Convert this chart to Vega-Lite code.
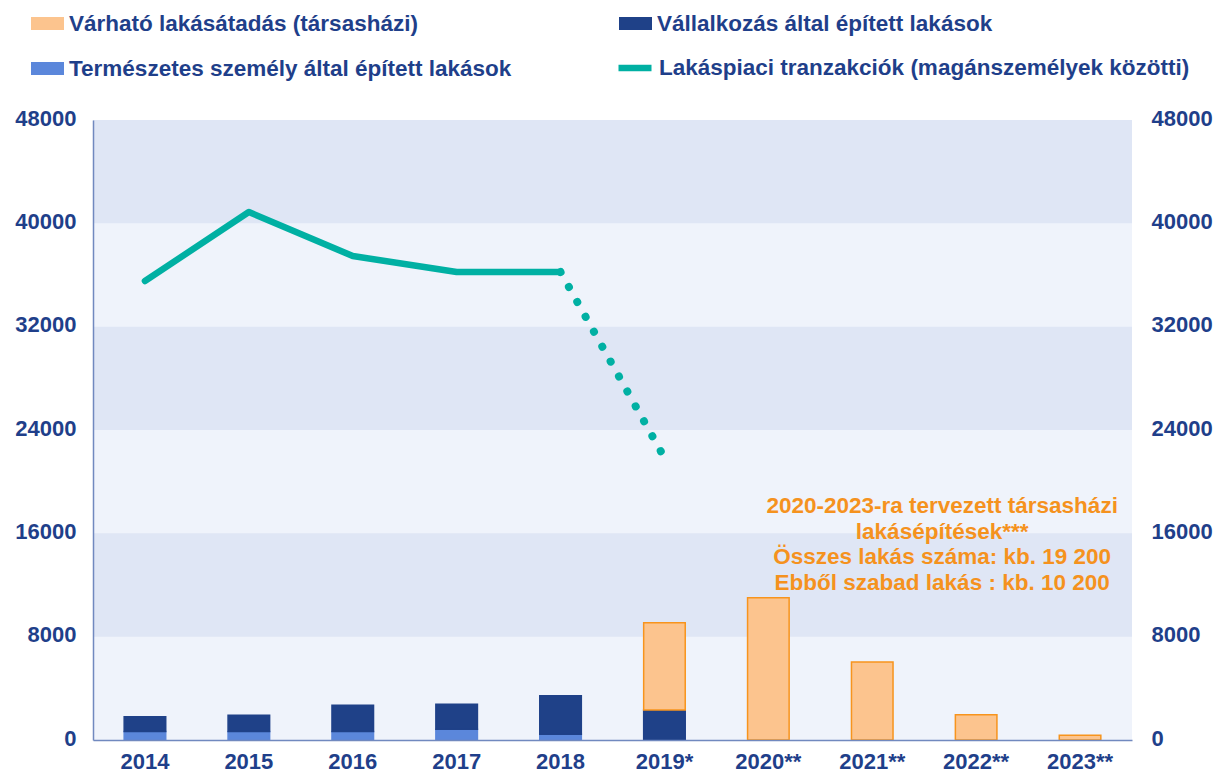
{
  "$schema": "https://vega.github.io/schema/vega-lite/v6.json",
  "width": 1039,
  "height": 620,
  "autosize": {"type": "none"},
  "padding": {"left": 93, "top": 120, "right": 88, "bottom": 36},
  "background": "white",
  "config": {
    "view": {"stroke": null, "fill": "#eff3fb"},
    "font": "Liberation Sans",
    "legend": {
      "labelFont": "Liberation Sans", "labelFontSize": 22.5, "labelFontWeight": "bold", "labelColor": "#1f3f8a",
      "labelLimit": 700, "symbolSize": 1089, "labelOffset": 4
    }
  },
  "datasets": {
    "bands": [{"lo": 8000, "hi": 16000}, {"lo": 24000, "hi": 32000}, {"lo": 40000, "hi": 48000}],
    "bars": [
      {"year": "2014", "series": "Természetes személy által épített lakások", "value": 650, "stack": 1},
      {"year": "2014", "series": "Vállalkozás által épített lakások", "value": 1150, "stack": 2},
      {"year": "2015", "series": "Természetes személy által épített lakások", "value": 650, "stack": 1},
      {"year": "2015", "series": "Vállalkozás által épített lakások", "value": 1260, "stack": 2},
      {"year": "2016", "series": "Természetes személy által épített lakások", "value": 650, "stack": 1},
      {"year": "2016", "series": "Vállalkozás által épített lakások", "value": 2035, "stack": 2},
      {"year": "2017", "series": "Természetes személy által épített lakások", "value": 830, "stack": 1},
      {"year": "2017", "series": "Vállalkozás által épített lakások", "value": 1930, "stack": 2},
      {"year": "2018", "series": "Természetes személy által épített lakások", "value": 440, "stack": 1},
      {"year": "2018", "series": "Vállalkozás által épített lakások", "value": 2990, "stack": 2},
      {"year": "2019*", "series": "Vállalkozás által épített lakások", "value": 2320, "stack": 2},
      {"year": "2019*", "series": "Várható lakásátadás (társasházi)", "value": 6765, "stack": 3},
      {"year": "2020**", "series": "Várható lakásátadás (társasházi)", "value": 11020, "stack": 3},
      {"year": "2021**", "series": "Várható lakásátadás (társasházi)", "value": 6040, "stack": 3},
      {"year": "2022**", "series": "Várható lakásátadás (társasházi)", "value": 1960, "stack": 3},
      {"year": "2023**", "series": "Várható lakásátadás (társasházi)", "value": 360, "stack": 3}
    ],
    "line": [
      {"year": "2014", "series": "Lakáspiaci tranzakciók (magánszemélyek közötti)", "value": 35535, "seg": "solid"},
      {"year": "2015", "series": "Lakáspiaci tranzakciók (magánszemélyek közötti)", "value": 40875, "seg": "solid"},
      {"year": "2016", "series": "Lakáspiaci tranzakciók (magánszemélyek közötti)", "value": 37470, "seg": "solid"},
      {"year": "2017", "series": "Lakáspiaci tranzakciók (magánszemélyek közötti)", "value": 36230, "seg": "solid"},
      {"year": "2018", "series": "Lakáspiaci tranzakciók (magánszemélyek közötti)", "value": 36230, "seg": "solid"},
      {"year": "2018", "series": "Lakáspiaci tranzakciók (magánszemélyek közötti)", "value": 36230, "seg": "dotted"},
      {"year": "2019*", "series": "Lakáspiaci tranzakciók (magánszemélyek közötti)", "value": 21850, "seg": "dotted"}
    ],
    "note": [
      {"year": "2022**", "y": 18950, "text": ["2020-2023-ra tervezett társasházi", "lakásépítések***", "Összes lakás száma: kb. 19 200", "Ebből szabad lakás : kb. 10 200"]}
    ]
  },
  "resolve": {"axis": {"y": "independent"}, "scale": {"color": "independent"}},
  "layer": [
    {
      "data": {"name": "bands"},
      "mark": {"type": "rect", "color": "#dfe6f5"},
      "encoding": {
        "y": {"field": "lo", "type": "quantitative", "scale": {"domain": [0, 48000], "nice": false}, "axis": null},
        "y2": {"field": "hi"}
      }
    },
    {
      "data": {"name": "bars"},
      "mark": {"type": "bar", "strokeWidth": 1.5},
      "encoding": {
        "x": {
          "field": "year", "type": "nominal",
          "scale": {"domain": ["2014", "2015", "2016", "2017", "2018", "2019*", "2020**", "2021**", "2022**", "2023**"], "paddingInner": 0.6, "paddingOuter": 0.3},
          "axis": {"title": null, "labelAngle": 0, "labelFont": "Liberation Sans", "labelFontSize": 22, "labelFontWeight": "bold", "labelColor": "#1f3f8a", "ticks": false, "labelPadding": 11, "domainColor": "#7189bf", "domainWidth": 1.5, "grid": false, "zindex": 2}
        },
        "y": {
          "field": "value", "type": "quantitative", "stack": "zero",
          "scale": {"domain": [0, 48000], "nice": false},
          "axis": {"title": null, "values": [0, 8000, 16000, 24000, 32000, 40000, 48000], "format": "d", "labelFont": "Liberation Sans", "labelFontSize": 22, "labelFontWeight": "bold", "labelColor": "#1f3f8a", "ticks": false, "labelPadding": 17, "labelOffset": -2, "domainColor": "#7189bf", "domainWidth": 1.5, "grid": false, "zindex": 2}
        },
        "color": {
          "field": "series", "type": "nominal",
          "scale": {
            "domain": ["Várható lakásátadás (társasházi)", "Természetes személy által épített lakások", "Vállalkozás által épített lakások"],
            "range": ["#fcc48e", "#5b87db", "#1f4188"]
          },
          "legend": {"title": null, "orient": "none", "legendX": -63, "legendY": -114, "columns": 2, "columnPadding": 106, "rowPadding": 16, "symbolType": "M-1,-0.4H1V0.4H-1Z"}
        },
        "stroke": {
          "field": "series", "type": "nominal",
          "scale": {
            "domain": ["Várható lakásátadás (társasházi)", "Természetes személy által épített lakások", "Vállalkozás által épített lakások"],
            "range": ["#f7941d", "#5b87db", "#1f4188"]
          },
          "legend": null
        },
        "order": {"field": "stack", "type": "quantitative"}
      }
    },
    {
      "data": {"name": "line"},
      "transform": [{"filter": "datum.seg === 'solid'"}],
      "mark": {"type": "line", "strokeWidth": 6.5, "strokeCap": "round", "strokeJoin": "round"},
      "encoding": {
        "x": {"field": "year", "type": "nominal"},
        "y": {
          "field": "value", "type": "quantitative",
          "scale": {"domain": [0, 48000], "nice": false},
          "axis": {"orient": "right", "title": null, "values": [0, 8000, 16000, 24000, 32000, 40000, 48000], "format": "d", "labelFont": "Liberation Sans", "labelFontSize": 22, "labelFontWeight": "bold", "labelColor": "#1f3f8a", "ticks": false, "labelPadding": 19, "labelOffset": -2, "domain": false, "grid": false}
        },
        "color": {
          "field": "series", "type": "nominal",
          "scale": {"domain": ["Lakáspiaci tranzakciók (magánszemélyek közötti)"], "range": ["#00b0a3"]},
          "legend": {"title": null, "orient": "none", "legendX": 522, "legendY": -72, "symbolType": "stroke", "symbolStrokeWidth": 6.5}
        }
      }
    },
    {
      "data": {"name": "line"},
      "transform": [{"filter": "datum.seg === 'dotted'"}],
      "mark": {"type": "line", "color": "#00b0a3", "strokeWidth": 8, "strokeCap": "round", "strokeDash": [0.1, 17]},
      "encoding": {
        "x": {"field": "year", "type": "nominal"},
        "y": {"field": "value", "type": "quantitative", "scale": {"domain": [0, 48000], "nice": false}, "axis": null}
      }
    },
    {
      "data": {"name": "note"},
      "mark": {"type": "text", "font": "Liberation Sans", "fontSize": 22.5, "fontWeight": "bold", "color": "#f5921e", "align": "center", "baseline": "top", "lineHeight": 25.5, "dx": -34},
      "encoding": {
        "x": {"field": "year", "type": "nominal"},
        "y": {"field": "y", "type": "quantitative", "scale": {"domain": [0, 48000], "nice": false}, "axis": null},
        "text": {"field": "text"}
      }
    }
  ]
}
